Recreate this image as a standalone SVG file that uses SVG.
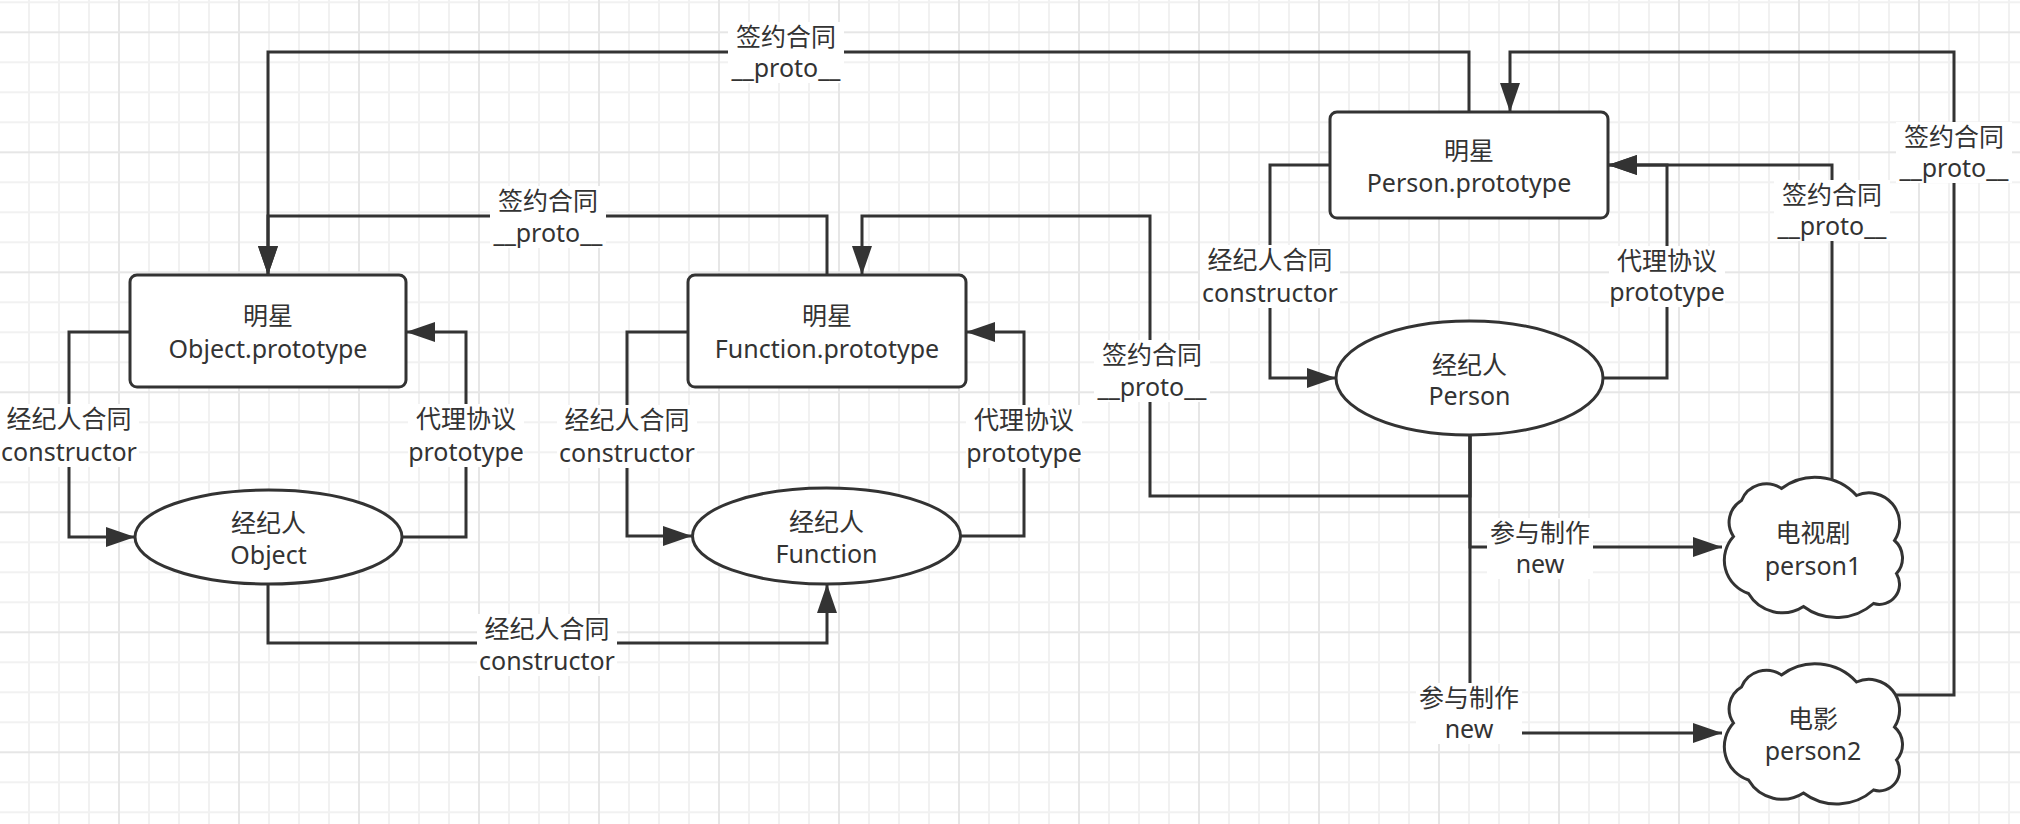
<svg xmlns="http://www.w3.org/2000/svg" xmlns:xlink="http://www.w3.org/1999/xlink" width="2020" height="824" viewBox="0 0 2020 824">
  <style>
    .edge { fill: none; stroke: #333; stroke-width: 3; }
    .arrow { marker-end: url(#arrow); }
    .shape { fill: #fff; stroke: #333; stroke-width: 3; }
    .lbl-bg { fill: #fff; }
    text { font-family: "Noto Sans", "Noto Sans CJK SC", sans-serif; font-size: 25px; fill: #333; text-anchor: middle; }
  </style>
  <defs>
    <!-- background grid: minor every 30px, major every 120px -->
    <pattern id="grid" patternUnits="userSpaceOnUse" x="-2" y="31.3" width="120" height="120">
      <g stroke="#f1f1f1" stroke-width="2">
        <line x1="31" y1="0" x2="31" y2="120"/>
        <line x1="61" y1="0" x2="61" y2="120"/>
        <line x1="91" y1="0" x2="91" y2="120"/>
        <line x1="0" y1="31" x2="120" y2="31"/>
        <line x1="0" y1="61" x2="120" y2="61"/>
        <line x1="0" y1="91" x2="120" y2="91"/>
      </g>
      <g stroke="#e6e6e6" stroke-width="2">
        <line x1="1" y1="0" x2="1" y2="120"/>
        <line x1="0" y1="1" x2="120" y2="1"/>
      </g>
    </pattern>
    <marker id="arrow" markerUnits="userSpaceOnUse" markerWidth="30" markerHeight="22" viewBox="0 0 30 22" refX="29" refY="11" orient="auto">
      <path d="M0,1 L29,11 L0,21 Z" fill="#333"/>
    </marker>
    <!-- cloud outline centred on the origin -->
    <path id="cloud" d="M44,-52 A30.7,30.7 0 0 1 82,-7 A23.1,23.1 0 0 1 84,26 A20.2,20.2 0 0 1 61,56 A55.4,55.4 0 0 1 -9,59 A39.3,39.3 0 0 1 -64,46 A35.1,35.1 0 0 1 -79,-11 A25.3,25.3 0 0 1 -71,-47 A26.8,26.8 0 0 1 -31,-59 A56.1,56.1 0 0 1 44,-52 Z"/>
  </defs>

  <rect x="0" y="0" width="2020" height="824" fill="#fff"/>
  <rect x="0" y="0" width="2020" height="824" fill="url(#grid)"/>

  <g id="connectors">
    <!-- Object -->
    <path class="edge arrow" d="M130,332 H69 V537 H135"/>
    <path class="edge arrow" d="M402,537 H466 V332 H406"/>
    <!-- Function -->
    <path class="edge arrow" d="M688,332 H627 V536 H692"/>
    <path class="edge arrow" d="M960,536 H1024 V332 H966"/>
    <path class="edge arrow" d="M268,584 V643 H827 V584"/>
    <!-- __proto__ chains -->
    <path class="edge arrow" d="M827,275 V216 H268 V275"/>
    <path class="edge arrow" d="M1469,112 V52 H268 V275"/>
    <path class="edge arrow" d="M1470,435 V496 H1150 V216 H862 V275"/>
    <!-- Person -->
    <path class="edge arrow" d="M1330,165 H1270 V378 H1336"/>
    <path class="edge arrow" d="M1603,378 H1667 V165 H1608"/>
    <path class="edge arrow" d="M1470,435 V547 H1722"/>
    <path class="edge arrow" d="M1470,435 V733 H1722"/>
    <path class="edge arrow" d="M1832,482 V165 H1608"/>
    <path class="edge arrow" d="M1896,695 H1954 V52 H1510 V112"/>

    <!-- edge labels -->
    <g id="label-proto-top">
      <rect class="lbl-bg" x="728" y="22" width="116" height="61"/>
      <text x="786" y="46">签约合同<tspan x="786" y="77">__proto__</tspan></text>
    </g>
    <g id="label-proto-fn">
      <rect class="lbl-bg" x="490" y="186" width="116" height="62"/>
      <text x="548" y="210">签约合同<tspan x="548" y="242">__proto__</tspan></text>
    </g>
    <g id="label-proto-person">
      <rect class="lbl-bg" x="1094" y="340" width="116" height="62"/>
      <text x="1152" y="364">签约合同<tspan x="1152" y="396">__proto__</tspan></text>
    </g>
    <g id="label-ctor-object">
      <rect class="lbl-bg" x="-1" y="404" width="140" height="63"/>
      <text x="69" y="428">经纪人合同<tspan x="69" y="461">constructor</tspan></text>
    </g>
    <g id="label-proto-object">
      <rect class="lbl-bg" x="408" y="404" width="116" height="63"/>
      <text x="466" y="428">代理协议<tspan x="466" y="461">prototype</tspan></text>
    </g>
    <g id="label-ctor-function">
      <rect class="lbl-bg" x="557" y="405" width="140" height="63"/>
      <text x="627" y="429">经纪人合同<tspan x="627" y="462">constructor</tspan></text>
    </g>
    <g id="label-prototype-function">
      <rect class="lbl-bg" x="966" y="405" width="116" height="63"/>
      <text x="1024" y="429">代理协议<tspan x="1024" y="462">prototype</tspan></text>
    </g>
    <g id="label-ctor-bottom">
      <rect class="lbl-bg" x="477" y="614" width="140" height="62"/>
      <text x="547" y="638">经纪人合同<tspan x="547" y="670">constructor</tspan></text>
    </g>
    <g id="label-ctor-person">
      <rect class="lbl-bg" x="1200" y="245" width="140" height="63"/>
      <text x="1270" y="269">经纪人合同<tspan x="1270" y="302">constructor</tspan></text>
    </g>
    <g id="label-prototype-person">
      <rect class="lbl-bg" x="1609" y="246" width="116" height="61"/>
      <text x="1667" y="270">代理协议<tspan x="1667" y="301">prototype</tspan></text>
    </g>
    <g id="label-proto-person1">
      <rect class="lbl-bg" x="1774" y="180" width="116" height="61"/>
      <text x="1832" y="204">签约合同<tspan x="1832" y="235">__proto__</tspan></text>
    </g>
    <g id="label-proto-person2">
      <rect class="lbl-bg" x="1896" y="122" width="116" height="61"/>
      <text x="1954" y="146">签约合同<tspan x="1954" y="177">__proto__</tspan></text>
    </g>
    <g id="label-new-person1">
      <rect class="lbl-bg" x="1487" y="518" width="106" height="61"/>
      <text x="1540" y="542">参与制作<tspan x="1540" y="573">new</tspan></text>
    </g>
    <g id="label-new-person2">
      <rect class="lbl-bg" x="1416" y="683" width="106" height="61"/>
      <text x="1469" y="707">参与制作<tspan x="1469" y="738">new</tspan></text>
    </g>
  </g>

  <g id="object-prototype">
    <rect class="shape" x="130" y="275" width="276" height="112" rx="7"/>
    <text x="268" y="325">明星<tspan x="268" y="358">Object.prototype</tspan></text>
  </g>
  <g id="function-prototype">
    <rect class="shape" x="688" y="275" width="278" height="112" rx="7"/>
    <text x="827" y="325">明星<tspan x="827" y="358">Function.prototype</tspan></text>
  </g>
  <g id="person-prototype">
    <rect class="shape" x="1330" y="112" width="278" height="106" rx="7"/>
    <text x="1469" y="160">明星<tspan x="1469" y="192">Person.prototype</tspan></text>
  </g>
  <g id="object">
    <ellipse class="shape" cx="268.5" cy="537" rx="133.5" ry="47"/>
    <text x="268.5" y="532">经纪人<tspan x="268.5" y="564">Object</tspan></text>
  </g>
  <g id="function">
    <ellipse class="shape" cx="826.5" cy="536" rx="134" ry="48"/>
    <text x="826.5" y="531">经纪人<tspan x="826.5" y="563">Function</tspan></text>
  </g>
  <g id="person">
    <ellipse class="shape" cx="1469.5" cy="378" rx="133.5" ry="57"/>
    <text x="1469.5" y="374">经纪人<tspan x="1469.5" y="405">Person</tspan></text>
  </g>
  <g id="person1">
    <use xlink:href="#cloud" href="#cloud" class="shape" transform="translate(1812.5,547.5)"/>
    <text x="1813" y="542">电视剧<tspan x="1813" y="575">person1</tspan></text>
  </g>
  <g id="person2">
    <use xlink:href="#cloud" href="#cloud" class="shape" transform="translate(1812.5,734)"/>
    <text x="1813" y="728">电影<tspan x="1813" y="760">person2</tspan></text>
  </g>
</svg>
